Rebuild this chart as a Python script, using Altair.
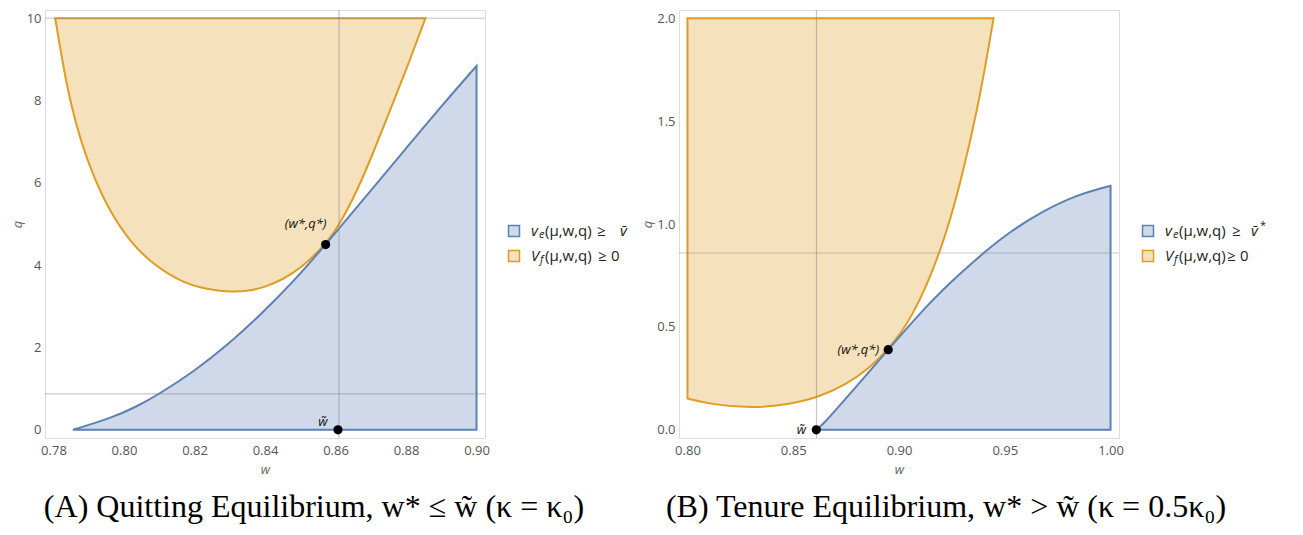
import altair as alt
import pandas as pd

# ---------------- Panel A data (Quitting Equilibrium) ----------------
a_orange_w = [0.7805, 0.7830, 0.7849, 0.7878, 0.7915, 0.7963, 0.8020, 0.8086, 0.8171, 0.8240,
              0.8303, 0.8360, 0.8400, 0.8450, 0.8500, 0.8572, 0.8613, 0.8661, 0.8708, 0.8755, 0.8803, 0.8855]
a_orange_q = [10.0, 8.72, 7.93, 6.99, 6.12, 5.25, 4.54, 3.99, 3.55, 3.41,
              3.34, 3.38, 3.47, 3.65, 3.91, 4.50, 5.01, 5.80, 6.75, 7.77, 8.80, 10.0]
a_orange_top = 10.0
a_blue_w = [0.7855, 0.7963, 0.8038, 0.8100, 0.8199, 0.8294, 0.8388, 0.8483, 0.8572, 0.8708, 0.8803, 0.8900, 0.9000]
a_blue_q = [0.0, 0.28, 0.57, 0.87, 1.42, 2.06, 2.80, 3.62, 4.50, 5.89, 6.87, 7.86, 8.84]
a_blue_base = 0.0
a_vlines = [0.861]
a_hlines = [0.87, 10.0]
a_star = [0.8572, 4.50]
a_wtilde = [0.8607, 0.0]
a_xticks = [0.78, 0.80, 0.82, 0.84, 0.86, 0.88, 0.90]
a_yticks = [0, 2, 4, 6, 8, 10]
a_xdomain = [0.7776, 0.9024]
a_ydomain = [-0.2, 10.2]

# ---------------- Panel B data (Tenure Equilibrium) ----------------
b_orange_w = [0.8000, 0.8114, 0.8304, 0.8478, 0.8612, 0.8747, 0.8857, 0.8949, 0.9063, 0.9197,
              0.9289, 0.9377, 0.9447]
b_orange_q = [0.152, 0.123, 0.104, 0.123, 0.155, 0.218, 0.297, 0.389, 0.542, 0.859,
              1.19, 1.58, 2.0]
b_orange_top = 2.0
b_blue_w = [0.8609, 0.8640, 0.8747, 0.8842, 0.8949, 0.9131, 0.9289, 0.9407, 0.9526, 0.9684, 0.9842, 1.0]
b_blue_q = [0.0, 0.025, 0.150, 0.262, 0.389, 0.605, 0.760, 0.866, 0.964, 1.065, 1.142, 1.186]
b_blue_base = 0.0
b_vlines = [0.861]
b_hlines = [0.859]
b_star = [0.8949, 0.389]
b_wtilde = [0.8609, 0.0]
b_xticks = [0.80, 0.85, 0.90, 0.95, 1.00]
b_yticks = [0.0, 0.5, 1.0, 1.5, 2.0]
b_xdomain = [0.796, 1.004]
b_ydomain = [-0.04, 2.04]

# ---------------- styles ----------------
BLUE = "#5E81B5"
BLUE_FILL = "#CFD9E9"
ORANGE = "#E19C24"
ORANGE_FILL = "#F6E1BD"
RULE = "#808080"
FONT = "Open Sans"
W, H = 440, 428
ONE = pd.DataFrame({"k": [0]})


def text_piece(txt, px, py, size, style, align="left"):
    return alt.Chart(ONE).mark_text(
        text=txt, font=FONT, fontSize=size, fontStyle=style, align=align,
        baseline="middle", color="#222"
    ).encode(x=alt.value(px), y=alt.value(py))


def panel(ow, oq, otop, bw, bq, bbase, vlines, hlines, star, wt, xticks, yticks,
          xdom, ydom, xfmt, yfmt, legend_rows, caption, star_dx, star_dy, star_align, wt_dy,
          cap_dx):
    xs = alt.Scale(domain=xdom, nice=False, zero=False)
    ys = alt.Scale(domain=ydom, nice=False, zero=False)
    xaxis = alt.Axis(title="w", values=xticks, format=xfmt, grid=False, ticks=False,
                     domain=False, labelPadding=6, titlePadding=6, titleFontStyle="italic",
                     titleFontWeight="normal", titleColor="#666", labelColor="#555",
                     labelFontSize=13, titleFontSize=13, labelFont=FONT, titleFont=FONT)
    yaxis = alt.Axis(title="q", values=yticks, format=yfmt, grid=False, ticks=False,
                     domain=False, labelPadding=4, titlePadding=2, titleFontStyle="italic",
                     titleFontWeight="normal", titleColor="#666", labelColor="#555",
                     labelFontSize=13, titleFontSize=13, labelFont=FONT, titleFont=FONT)

    odf = pd.DataFrame({"w": ow, "q": oq, "top": [otop] * len(ow)})
    bdf = pd.DataFrame({"w": bw, "q": bq, "base": [bbase] * len(bw)})

    orange = alt.Chart(odf).mark_area(
        fill=ORANGE_FILL, stroke=ORANGE, strokeWidth=2, interpolate="basis"
    ).encode(x=alt.X("w:Q", scale=xs, axis=xaxis), y=alt.Y("q:Q", scale=ys, axis=yaxis), y2="top:Q")
    blue = alt.Chart(bdf).mark_area(
        fill=BLUE_FILL, stroke=BLUE, strokeWidth=2, interpolate="basis"
    ).encode(x=alt.X("w:Q", scale=xs), y=alt.Y("q:Q", scale=ys), y2="base:Q")

    vr = alt.Chart(pd.DataFrame({"w": vlines})).mark_rule(
        color=RULE, opacity=0.45, strokeWidth=1.2).encode(x=alt.X("w:Q", scale=xs))
    hr = alt.Chart(pd.DataFrame({"q": hlines})).mark_rule(
        color=RULE, opacity=0.45, strokeWidth=1.2).encode(y=alt.Y("q:Q", scale=ys))

    pts = pd.DataFrame({"w": [star[0], wt[0]], "q": [star[1], wt[1]]})
    dots = alt.Chart(pts).mark_circle(size=85, color="black", opacity=1).encode(
        x=alt.X("w:Q", scale=xs), y=alt.Y("q:Q", scale=ys))

    sdf = pd.DataFrame({"w": [star[0]], "q": [star[1]]})
    slabel = alt.Chart(sdf).mark_text(
        text="(w*,q*)", font=FONT, fontSize=13, fontStyle="italic", color="#111",
        dx=star_dx, dy=star_dy, align=star_align, baseline="middle"
    ).encode(x=alt.X("w:Q", scale=xs), y=alt.Y("q:Q", scale=ys))
    tdf = pd.DataFrame({"w": [wt[0]], "q": [wt[1]]})
    tlabel = alt.Chart(tdf).mark_text(
        text="w\u0303", font=FONT, fontSize=13, fontStyle="italic", color="#111",
        dx=-15, dy=wt_dy, align="center", baseline="middle"
    ).encode(x=alt.X("w:Q", scale=xs), y=alt.Y("q:Q", scale=ys))

    layers = [orange, blue, vr, hr, dots, slabel, tlabel]

    # legend (swatches + math-like text pieces)
    lx = W + 29
    for i, (fill, stroke, pieces) in enumerate(legend_rows):
        ly = 221 + 25 * i
        layers.append(alt.Chart(ONE).mark_square(
            size=121, fill=fill, stroke=stroke, strokeWidth=1.5, opacity=1
        ).encode(x=alt.value(lx), y=alt.value(ly)))
        for (txt, dx, dy, size, style) in pieces:
            layers.append(text_piece(txt, lx + dx, ly + dy, size, style))

    return alt.layer(*layers).properties(
        width=W, height=H,
        title=alt.TitleParams(text=caption, orient="bottom", anchor="middle",
                              font="Liberation Serif", fontSize=32, fontWeight="normal",
                              color="black", offset=16, dx=cap_dx)
    )


a_legend = [
    (BLUE_FILL, BLUE, [("v", 17, 0, 15, "italic"), ("e", 25, 4, 11, "italic"),
                       ("(μ,w,q)", 31, 0, 15, "normal"), ("≥", 83, 0, 15, "normal"),
                       ("v\u0304", 106, 0, 15, "italic")]),
    (ORANGE_FILL, ORANGE, [("V", 17, 0, 15, "italic"), ("f", 26, 4, 11, "italic"),
                           ("(μ,w,q)", 31, 0, 15, "normal"), ("≥", 84, 0, 15, "normal"),
                           ("0", 97, 0, 15, "normal")]),
]
b_legend = [
    (BLUE_FILL, BLUE, [("v", 17, 0, 15, "italic"), ("e", 25, 4, 11, "italic"),
                       ("(μ,w,q)", 31, 0, 15, "normal"), ("≥", 84, 0, 15, "normal"),
                       ("v\u0304", 103, 0, 15, "italic"), ("*", 112, -5, 11, "normal")]),
    (ORANGE_FILL, ORANGE, [("V", 17, 0, 15, "italic"), ("f", 26, 4, 11, "italic"),
                           ("(μ,w,q)", 31, 0, 15, "normal"), ("≥", 79, 0, 15, "normal"),
                           ("0", 92, 0, 15, "normal")]),
]

left = panel(a_orange_w, a_orange_q, a_orange_top, a_blue_w, a_blue_q, a_blue_base,
             a_vlines, a_hlines, a_star, a_wtilde, a_xticks, a_yticks, a_xdomain, a_ydomain,
             ".2f", "d", a_legend,
             "(A) Quitting Equilibrium, w* \u2264 w\u0303 (\u03ba = \u03ba\u2080)",
             -20, -21, "center", -8, 49)
right = panel(b_orange_w, b_orange_q, b_orange_top, b_blue_w, b_blue_q, b_blue_base,
              b_vlines, b_hlines, b_star, b_wtilde, b_xticks, b_yticks, b_xdomain, b_ydomain,
              ".2f", ".1f", b_legend,
              "(B) Tenure Equilibrium, w* > w\u0303 (\u03ba = 0.5\u03ba\u2080)",
              -9, 0, "right", 0, 47)

chart = alt.hconcat(left, right, spacing=13).resolve_scale(
    x="independent", y="independent"
).properties(padding={"left": 2, "top": 0, "right": 0, "bottom": 0}).configure_view(
    stroke="#999", strokeWidth=1
).configure(background="white")

chart.save("out.html", embed_options={"renderer": "svg", "actions": False})
